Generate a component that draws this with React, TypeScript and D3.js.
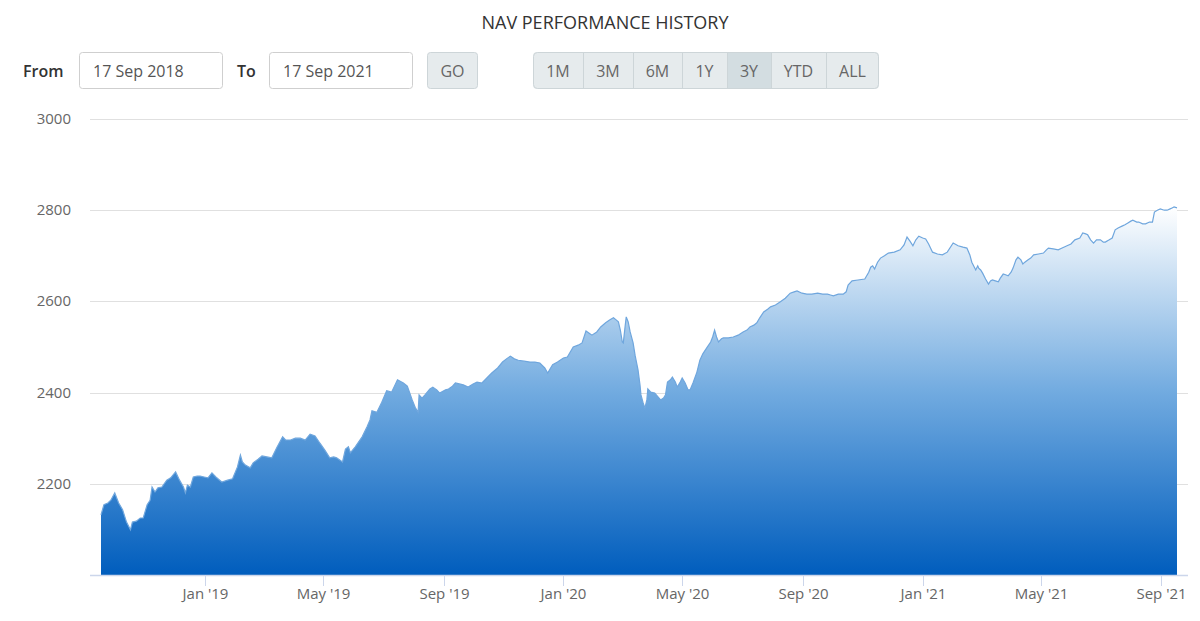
import React from "react";
import * as d3 from "d3";

const TITLE = "NAV PERFORMANCE HISTORY";
const FROM_DATE = "17 Sep 2018";
const TO_DATE = "17 Sep 2021";
const RANGE_BUTTONS = ["1M", "3M", "6M", "1Y", "3Y", "YTD", "ALL"];
const ACTIVE_BUTTON = "3Y";
const Y_TICKS = [2200, 2400, 2600, 2800, 3000];
const Y_DOMAIN = [2000, 3000];

// days since 17 Sep 2018
const dayOffsets = [
  0, 3, 7, 10, 14, 18, 22, 26, 30, 32,
  36, 40, 43, 47, 50, 52, 55, 58, 62, 67,
  71, 76, 80, 84, 86, 88, 91, 94, 98, 101,
  105, 109, 113, 117, 123, 129, 134, 139, 142, 144,
  147, 152, 155, 160, 164, 169, 174, 179, 185, 188,
  193, 198, 203, 208, 213, 218, 223, 228, 233, 237,
  240, 246, 249, 252, 254, 259, 266, 271, 274, 276,
  281, 286, 291, 296, 302, 308, 312, 317, 320, 323,
  324, 327, 330, 335, 338, 342, 345, 351, 354, 358,
  361, 365, 369, 374, 379, 383, 388, 393, 398, 404,
  409, 413, 417, 421, 425, 431, 437, 442, 447, 452,
  455, 460, 465, 471, 475, 481, 486, 490, 494, 498,
  500, 505, 509, 514, 518, 522, 525, 527, 529, 531,
  532, 534, 535, 537, 539, 542, 544, 545, 547, 549,
  550, 552, 554, 556, 557, 560, 564, 570, 573, 575,
  577, 580, 582, 585, 587, 590, 592, 595, 598, 600,
  603, 607, 610, 613, 617, 621, 623, 625, 627, 629,
  632, 634, 639, 644, 649, 654, 658, 661, 665, 668,
  671, 675, 679, 682, 687, 692, 697, 702, 706, 709,
  714, 719, 724, 730, 735, 740, 743, 746, 751, 756,
  759, 761, 765, 771, 778, 782, 784, 786, 788, 791,
  794, 798, 802, 808, 814, 818, 821, 824, 827, 830,
  833, 837, 840, 843, 847, 852, 857, 862, 868, 873,
  878, 882, 885, 887, 891, 893, 894, 896, 898, 901,
  904, 906, 908, 911, 914, 916, 919, 922, 924, 927,
  929, 932, 934, 937, 939, 941, 944, 947, 950, 955,
  960, 963, 965, 970, 975, 979, 984, 988, 992, 997,
  1000, 1003, 1005, 1008, 1011, 1014, 1018, 1021, 1023, 1027,
  1030, 1033, 1036, 1040, 1043, 1046, 1049, 1051, 1055, 1057,
  1061, 1064, 1068, 1071, 1073, 1076, 1079, 1083, 1086, 1089,
  1091, 1093, 1096,
];

const navValues = [
  2132, 2154, 2158, 2164, 2180, 2158, 2143, 2116, 2099, 2116,
  2118, 2125, 2125, 2154, 2164, 2193, 2182, 2191, 2193, 2208,
  2213, 2226, 2208, 2193, 2180, 2197, 2193, 2215, 2217, 2217,
  2215, 2213, 2224, 2215, 2204, 2208, 2211, 2237, 2263, 2248,
  2241, 2235, 2246, 2254, 2261, 2259, 2257, 2279, 2303, 2296,
  2296, 2300, 2300, 2296, 2309, 2305, 2289, 2274, 2257, 2259,
  2257, 2248, 2276, 2281, 2268, 2281, 2303, 2325, 2340, 2360,
  2357, 2379, 2404, 2401, 2428, 2421, 2414, 2384, 2368, 2357,
  2395, 2388, 2395, 2408, 2412, 2406, 2399, 2406, 2408, 2414,
  2421, 2419, 2417, 2412, 2419, 2423, 2421, 2432, 2443, 2454,
  2467, 2474, 2480, 2474, 2471, 2469, 2467, 2467, 2465, 2454,
  2443, 2461, 2467, 2476, 2478, 2500, 2504, 2509, 2535, 2529,
  2526, 2533, 2544, 2553, 2559, 2564, 2559, 2555, 2537, 2511,
  2509, 2548, 2566, 2555, 2533, 2509, 2482, 2471, 2450, 2417,
  2395, 2379, 2366, 2384, 2408, 2401, 2399, 2384, 2388, 2395,
  2423, 2428, 2434, 2423, 2412, 2423, 2432, 2421, 2406, 2406,
  2421, 2445, 2471, 2485, 2498, 2511, 2522, 2537, 2522, 2511,
  2518, 2520, 2520, 2522, 2526, 2533, 2537, 2544, 2548, 2553,
  2564, 2577, 2583, 2588, 2592, 2599, 2607, 2618, 2621, 2623,
  2618, 2616, 2616, 2618, 2616, 2616, 2614, 2612, 2616, 2616,
  2621, 2636, 2645, 2647, 2649, 2664, 2675, 2678, 2671, 2686,
  2695, 2700, 2706, 2708, 2713, 2724, 2741, 2732, 2722, 2735,
  2743, 2739, 2737, 2726, 2708, 2704, 2702, 2708, 2728, 2722,
  2719, 2717, 2702, 2686, 2669, 2678, 2673, 2669, 2662, 2649,
  2638, 2645, 2647, 2645, 2643, 2651, 2660, 2658, 2656, 2664,
  2673, 2691, 2697, 2691, 2682, 2686, 2691, 2695, 2702, 2704,
  2706, 2713, 2717, 2715, 2713, 2717, 2722, 2726, 2735, 2739,
  2750, 2748, 2746, 2735, 2728, 2735, 2735, 2730, 2730, 2735,
  2739, 2757, 2761, 2765, 2768, 2772, 2776, 2778, 2774, 2774,
  2770, 2770, 2774, 2774, 2796, 2800, 2803, 2800, 2800, 2803,
  2805, 2807, 2805,
];

const START = new Date(Date.UTC(2018, 8, 17));
const END = new Date(Date.UTC(2021, 8, 17));

const FONT = "'Open Sans', 'Noto Sans', sans-serif";

export default function App() {
  const W = 1200;
  const H = 621;
  const plotLeft = 90;
  const plotRight = 1188;

  const x = d3.scaleUtc().domain([START, END]).range([101, 1177]);
  const y = d3.scaleLinear().domain(Y_DOMAIN).range([575, 119]);

  const data = dayOffsets.map((d, i) => ({
    date: d3.utcDay.offset(START, d),
    value: navValues[i],
  }));

  const area = d3
    .area<{ date: Date; value: number }>()
    .x((d) => x(d.date))
    .y0(y(Y_DOMAIN[0]))
    .y1((d) => y(d.value));
  const line = d3
    .line<{ date: Date; value: number }>()
    .x((d) => x(d.date))
    .y((d) => y(d.value));

  const xTicks = x.ticks(d3.utcMonth.every(4)!).filter((t) => t >= START && t <= END);
  const fmt = d3.utcFormat("%b '%y");

  // Button group geometry
  const btnWidths = [50, 50, 49, 45, 44, 55, 53];
  const btnX0 = 533;
  const btnStarts = btnWidths.reduce<number[]>((acc, w, i) => {
    acc.push(i === 0 ? btnX0 : acc[i - 1] + btnWidths[i - 1]);
    return acc;
  }, []);
  const groupW = d3.sum(btnWidths);

  return (
    <div style={{ position: "absolute", left: 0, top: 0, width: W, height: H }}>
      <svg width={W} height={H} style={{ display: "block", fontFamily: FONT }}>
        <defs>
          <linearGradient id="navFill" x1="0" y1="0" x2="0" y2="1">
            <stop offset="0" stopColor="#ffffff" />
            <stop offset="0.5" stopColor="#72abe0" />
            <stop offset="1" stopColor="#005dbd" />
          </linearGradient>
          <clipPath id="grpClip">
            <rect x={btnX0} y={52} width={groupW} height={37} rx={4} />
          </clipPath>
        </defs>
        <rect width={W} height={H} fill="#ffffff" />

        {/* Title */}
        <text x={605} y={29} textAnchor="middle" fontSize={18} fill="#333333">
          {TITLE}
        </text>

        {/* From / To inputs */}
        <text x={23} y={77} fontSize={16} fontWeight={600} fill="#333333">
          From
        </text>
        <rect x={79.5} y={52.5} width={143} height={36} rx={3} fill="#ffffff" stroke="#cfcfcf" />
        <text x={93} y={77} fontSize={16} fill="#555555">
          {FROM_DATE}
        </text>
        <text x={237} y={77} fontSize={16} fontWeight={600} fill="#333333">
          To
        </text>
        <rect x={269.5} y={52.5} width={143} height={36} rx={3} fill="#ffffff" stroke="#cfcfcf" />
        <text x={283} y={77} fontSize={16} fill="#555555">
          {TO_DATE}
        </text>
        <rect x={427.5} y={52.5} width={50} height={36} rx={3} fill="#e6ebed" stroke="#cdd5d8" />
        <text x={452.5} y={77} fontSize={16} textAnchor="middle" fill="#666666">
          GO
        </text>

        {/* Range buttons */}
        <g clipPath="url(#grpClip)">
          {RANGE_BUTTONS.map((b, i) => (
            <rect
              key={b}
              x={btnStarts[i]}
              y={52}
              width={btnWidths[i]}
              height={37}
              fill={b === ACTIVE_BUTTON ? "#d3dde1" : "#e6ebed"}
            />
          ))}
        </g>
        {RANGE_BUTTONS.slice(1).map((b, i) => (
          <line
            key={b}
            x1={btnStarts[i + 1] + 0.5}
            x2={btnStarts[i + 1] + 0.5}
            y1={52}
            y2={89}
            stroke="#cdd5d8"
          />
        ))}
        <rect x={btnX0 + 0.5} y={52.5} width={groupW - 1} height={36} rx={4} fill="none" stroke="#cdd5d8" />
        {RANGE_BUTTONS.map((b, i) => (
          <text
            key={b}
            x={btnStarts[i] + btnWidths[i] / 2}
            y={77}
            fontSize={16}
            textAnchor="middle"
            fill="#666666"
          >
            {b}
          </text>
        ))}

        {/* Grid lines */}
        {Y_TICKS.map((t) => (
          <line
            key={t}
            x1={plotLeft}
            x2={plotRight}
            y1={Math.round(y(t)) + 0.5}
            y2={Math.round(y(t)) + 0.5}
            stroke="#e0e0e0"
            strokeWidth={1.2}
          />
        ))}
        {Y_TICKS.map((t) => (
          <text key={t} x={71} y={y(t) + 5} fontSize={15} textAnchor="end" fill="#666666">
            {t}
          </text>
        ))}

        {/* Area and line */}
        <path d={area(data) ?? ""} fill="url(#navFill)" />
        <path d={line(data) ?? ""} fill="none" stroke="#6fa6dd" strokeWidth={1.2} />

        {/* X axis */}
        <line x1={plotLeft} x2={plotRight} y1={575.5} y2={575.5} stroke="#ccd6eb" strokeWidth={1.5} />
        {xTicks.map((t) => (
          <g key={t.getTime()} transform={`translate(${Math.round(x(t)) + 0.5},0)`}>
            <line y1={575} y2={586} stroke="#ccd6eb" />
            <text y={599} fontSize={15} textAnchor="middle" fill="#666666">
              {fmt(t)}
            </text>
          </g>
        ))}
      </svg>
    </div>
  );
}
